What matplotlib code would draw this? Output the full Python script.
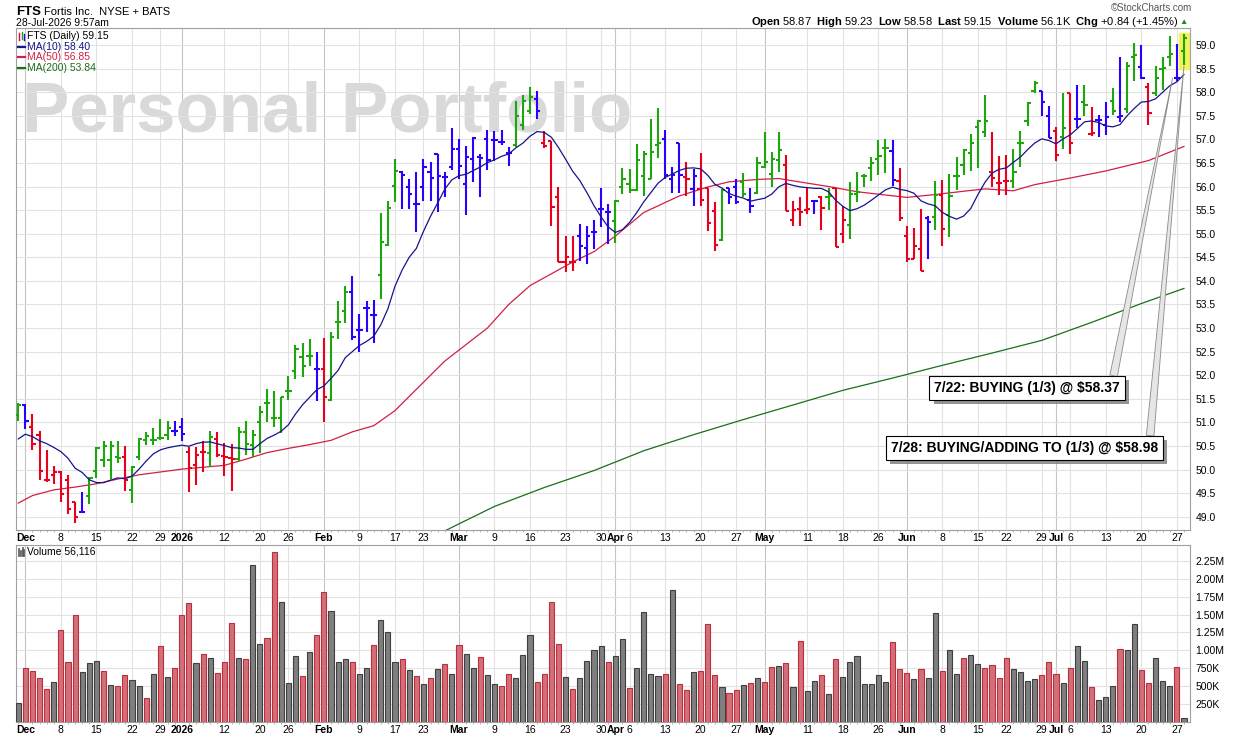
import numpy as np
import pandas as pd
import matplotlib
matplotlib.use("Agg")
import matplotlib.pyplot as plt
from matplotlib.lines import Line2D
from matplotlib.patches import Rectangle
import matplotlib.patheffects as pe

plt.rcParams['font.family'] = ['Liberation Sans', 'DejaVu Sans']
plt.rcParams['mathtext.fontset'] = 'custom'
plt.rcParams['mathtext.rm'] = 'Liberation Sans'
plt.rcParams['mathtext.bf'] = 'Liberation Sans:bold'

# trading calendar
holidays = ['2025-12-25', '2026-01-01', '2026-01-19', '2026-02-16',
            '2026-04-03', '2026-05-25', '2026-06-19', '2026-07-03']
days = pd.bdate_range('2025-11-28', '2026-07-28', freq='C', holidays=holidays)

# daily OHLC
opens = [
    51.16, 51.37, 50.91, 50.74, 49.78, 49.89, 49.94, 49.77, 49.31, 49.11,
    49.45, 49.98, 50.21, 50.21, 50.26, 50.26, 49.57, 50.26, 50.62, 50.62,
    50.67, 50.74, 50.81, 50.91, 50.38, 50.10, 50.38, 50.35, 50.64, 50.28,
    50.24, 50.23, 50.79, 50.53, 51.00, 51.41, 51.09, 51.09, 51.66, 52.08,
    52.38, 52.40, 52.14, 52.14, 51.48, 53.12, 53.37, 53.77, 52.96, 53.42,
    53.28, 54.13, 54.77, 56.02, 56.30, 55.98, 55.63, 55.98, 56.30, 56.70,
    56.21, 56.41, 56.80, 56.05, 56.58, 56.63, 57.00, 56.99, 56.94, 56.72,
    56.87, 57.30, 57.60, 57.85, 56.92, 56.96, 55.77, 54.41, 54.41, 54.96,
    54.70, 55.03, 55.52, 55.47, 55.27, 55.98, 56.05, 55.92, 56.23, 56.15,
    56.88, 57.00, 56.15, 56.92, 56.20, 55.94, 55.94, 55.96, 55.48, 54.86,
    55.96, 55.99, 56.10, 55.72, 55.87, 56.42, 56.26, 56.57, 56.45, 55.29,
    55.53, 55.50, 55.70, 55.78, 55.78, 55.96, 55.00, 55.18, 55.85, 56.23,
    56.39, 56.59, 56.81, 56.76, 56.12, 54.96, 54.46, 54.68, 55.33, 55.35,
    55.81, 55.40, 56.22, 56.46, 56.72, 57.27, 57.15, 56.31, 56.07, 56.11,
    56.11, 56.92, 57.38, 58.02, 58.02, 57.50, 57.17, 57.06, 57.99, 57.44,
    57.80, 57.12, 57.42, 57.31, 57.81, 57.47, 57.65, 58.75, 58.53, 58.10,
    57.98, 58.50, 58.75, 58.31, 58.87]
highs = [
    51.41, 51.39, 51.18, 50.81, 50.41, 50.07, 49.97, 49.88, 49.32, 49.52,
    49.85, 50.47, 50.60, 50.61, 50.60, 50.51, 50.07, 50.67, 50.79, 50.88,
    51.07, 51.04, 51.02, 51.09, 50.48, 50.48, 50.60, 50.82, 50.79, 50.56,
    50.55, 50.90, 51.02, 50.83, 51.35, 51.70, 51.67, 51.54, 51.99, 52.64,
    52.69, 52.77, 52.50, 52.79, 52.91, 53.58, 53.90, 54.10, 53.29, 53.58,
    53.60, 55.44, 55.70, 56.58, 56.32, 56.16, 56.30, 56.58, 56.51, 56.70,
    56.31, 57.25, 57.01, 56.85, 57.06, 56.69, 57.20, 57.18, 57.20, 56.83,
    57.82, 57.93, 58.10, 58.03, 57.18, 56.96, 56.00, 54.96, 54.96, 55.21,
    55.17, 55.28, 55.97, 55.64, 55.72, 56.40, 56.38, 56.90, 56.76, 57.44,
    57.67, 57.19, 56.42, 56.92, 56.52, 56.38, 56.71, 55.96, 55.67, 55.94,
    55.97, 56.17, 56.29, 55.97, 56.63, 57.16, 56.73, 57.16, 56.66, 55.70,
    55.78, 55.96, 55.71, 55.79, 55.96, 55.96, 55.58, 56.10, 56.31, 56.27,
    56.62, 56.99, 57.00, 56.99, 56.39, 55.16, 55.12, 55.52, 55.37, 56.11,
    56.13, 56.26, 56.62, 56.80, 57.11, 57.42, 57.93, 57.15, 56.64, 56.66,
    56.80, 57.17, 57.80, 58.24, 58.03, 57.70, 57.26, 57.99, 57.99, 58.16,
    58.16, 57.68, 57.52, 57.80, 58.09, 58.74, 58.63, 59.04, 59.01, 58.19,
    58.55, 58.74, 59.18, 59.02, 59.23]
lows = [
    51.02, 50.86, 50.41, 49.77, 49.73, 49.69, 49.32, 49.06, 48.87, 49.09,
    49.27, 49.82, 50.05, 49.80, 50.14, 49.55, 49.29, 50.21, 50.53, 50.53,
    50.62, 50.62, 50.72, 50.60, 49.53, 49.68, 49.95, 50.06, 50.26, 49.87,
    49.55, 50.19, 50.31, 50.27, 50.36, 51.00, 50.91, 50.77, 51.48, 51.92,
    51.97, 52.20, 51.45, 51.00, 51.46, 52.77, 53.11, 52.75, 52.50, 52.91,
    52.68, 53.62, 54.75, 55.68, 55.52, 55.52, 55.04, 55.70, 55.69, 55.45,
    55.77, 56.34, 56.16, 55.40, 56.09, 55.77, 56.34, 56.55, 56.87, 56.43,
    56.83, 57.20, 57.54, 57.43, 56.81, 55.17, 54.39, 54.18, 54.22, 54.43,
    54.36, 54.68, 55.14, 54.78, 54.81, 55.85, 55.87, 55.90, 55.80, 56.15,
    56.61, 56.17, 55.87, 55.87, 55.80, 55.59, 55.59, 55.06, 54.64, 54.85,
    55.64, 55.63, 55.78, 55.44, 55.85, 56.40, 55.99, 56.31, 55.48, 55.16,
    55.16, 55.41, 55.41, 55.07, 55.51, 54.71, 54.81, 54.88, 55.67, 56.00,
    56.12, 56.25, 56.29, 56.02, 55.26, 54.39, 54.46, 54.20, 54.47, 55.08,
    54.75, 54.94, 55.92, 56.25, 56.32, 56.39, 57.04, 55.98, 55.81, 55.83,
    55.97, 56.41, 57.29, 57.98, 57.49, 57.03, 56.55, 56.79, 56.69, 57.24,
    57.49, 57.08, 57.06, 57.10, 57.51, 57.36, 57.56, 58.23, 58.27, 57.31,
    57.91, 58.05, 58.55, 58.24, 58.58]
closes = [
    51.37, 51.02, 50.54, 49.96, 49.78, 49.95, 49.49, 49.17, 48.99, 49.11,
    49.82, 50.45, 50.51, 50.51, 50.24, 49.77, 50.05, 50.65, 50.72, 50.62,
    50.67, 50.88, 50.81, 50.76, 50.03, 50.30, 50.38, 50.70, 50.31, 50.26,
    50.23, 50.79, 50.55, 50.74, 51.23, 51.41, 51.09, 51.53, 51.66, 52.55,
    52.19, 52.40, 52.14, 51.54, 52.82, 53.12, 53.77, 52.81, 52.96, 53.42,
    53.28, 54.82, 55.54, 56.32, 56.25, 55.84, 55.63, 56.41, 56.18, 56.23,
    56.21, 56.80, 56.43, 56.63, 57.02, 56.60, 56.56, 56.99, 56.94, 56.72,
    57.50, 57.82, 57.89, 57.61, 56.85, 55.56, 54.40, 54.50, 54.39, 54.75,
    54.95, 55.03, 55.52, 55.47, 55.70, 56.15, 55.92, 56.57, 56.68, 56.73,
    56.92, 56.25, 56.25, 56.24, 56.17, 56.22, 55.71, 55.22, 54.76, 55.92,
    55.78, 55.68, 55.85, 55.58, 56.50, 56.51, 56.59, 56.77, 55.48, 55.50,
    55.46, 55.53, 55.70, 55.55, 55.80, 54.72, 55.30, 55.85, 55.89, 56.23,
    56.50, 56.64, 56.81, 56.13, 55.33, 54.46, 54.75, 54.22, 55.25, 55.83,
    55.11, 55.79, 56.22, 56.78, 56.92, 57.38, 57.38, 56.18, 56.07, 56.11,
    56.30, 56.92, 57.77, 58.19, 57.80, 57.03, 56.67, 57.24, 56.92, 57.44,
    57.72, 57.13, 57.42, 57.47, 57.61, 57.50, 58.55, 58.78, 58.29, 57.55,
    58.29, 58.51, 58.80, 58.31, 59.15]
# g = green, r = red, b = blue (impulse colouring as shown)
bar_colors = ("gbrrrrrrrb" "gggggrgggg" "ggbbrrrgrr" "rggggggggg" "ggbrgggbbb"
              "bgggbbbbbb" "bbbbbbbbbb" "gggbrrrrrb" "bbbbgggggg" "gbbbrbrrrg"
              "bbgbggggrr" "rrbrgrrggg" "gggbrrrrbg" "rggggggrrr" "ggggbbrgrb"
              "grbbgbggbr" "gggbg")

# volume in thousands
volume_k = [
    272, 755, 713, 614, 460, 553, 1290, 840, 1487, 699,
    825, 854, 713, 516, 502, 657, 586, 502, 333, 671,
    1065, 628, 755, 1487, 1656, 825, 947, 896, 685, 840,
    1388, 896, 882, 2190, 1093, 1177, 2373, 1670, 544, 924,
    643, 980, 1219, 1810, 1543, 840, 882, 840, 671, 755,
    1079, 1430, 1262, 840, 882, 727, 643, 530, 614, 741,
    811, 671, 1079, 952, 755, 910, 657, 530, 502, 671,
    614, 938, 1219, 558, 671, 1670, 1093, 628, 460, 614,
    854, 1008, 1065, 840, 924, 1163, 474, 755, 1529, 671,
    643, 671, 1838, 530, 446, 699, 713, 1374, 657, 488,
    403, 446, 516, 544, 614, 558, 769, 783, 825, 488,
    1135, 431, 572, 657, 389, 882, 628, 840, 924, 530,
    530, 657, 558, 1121, 741, 685, 600, 741, 614, 1515,
    713, 1008, 671, 896, 938, 811, 755, 797, 614, 896,
    741, 699, 572, 600, 657, 840, 671, 544, 755, 1065,
    854, 488, 305, 347, 502, 1022, 1008, 1374, 727, 544,
    896, 572, 502, 769, 56]
# r = down day (red), k = up day (grey)
vol_colors = ("krrrrkrrrk" "kkrkrrkkrk" "rkrrrkrkrr" "rkrkkrrkkk" "rkrrkkkrkk"
              "rkkkrkrkrk" "rkrkkrkkrr" "kkkrrrrkrk" "kkkrkkrkkk" "krkrrkrrrk"
              "rrkrkrrkrk" "rkkrkrkkkk" "kkkrrrkrkk" "rkkrkkrrrr" "kkkkrrrkrk"
              "krkkkrkkrr" "kkkrk")

# MA(10) for the first bars (needs history before the window)
ma10_head = [50.65, 50.75, 50.70, 50.61, 50.55, 50.47, 50.38, 50.24, 50.03]
# MA(50) and MA(200) read at sample bars
ma50_idx = [0, 2, 5, 8, 11, 14, 17, 20, 23, 26, 29, 32, 35, 38, 41, 44, 47, 50, 53, 56,
            60, 63, 66, 69, 72, 75, 78, 81, 84, 88, 93, 97, 100, 104, 107, 109, 114, 118,
            122, 125, 129, 133, 136, 140, 143, 148, 153, 159, 164]
ma50_val = [49.29, 49.45, 49.57, 49.63, 49.70, 49.80, 49.89, 49.95, 50.01, 50.05,
            50.09, 50.22, 50.36, 50.45, 50.53, 50.62, 50.80, 50.93, 51.25, 51.70,
            52.30, 52.65, 53.00, 53.50, 53.90, 54.15, 54.40, 54.62, 54.95, 55.45,
            55.80, 55.99, 56.10, 56.15, 56.17, 56.12, 56.00, 55.89, 55.82, 55.77,
            55.83, 55.90, 55.95, 55.91, 56.04, 56.18, 56.33, 56.55, 56.85]
ma200_idx = [58, 62, 67, 74, 81, 88, 95, 102, 109, 116, 123, 130, 137, 144, 151, 158, 164]
ma200_val = [48.55, 48.85, 49.22, 49.62, 49.98, 50.40, 50.74, 51.06, 51.37, 51.68,
             51.94, 52.21, 52.47, 52.74, 53.12, 53.52, 53.84]

tick_dates = ['2025-12-01', '2025-12-08', '2025-12-15', '2025-12-22', '2025-12-29',
              '2026-01-02', '2026-01-12', '2026-01-20', '2026-01-26', '2026-02-02',
              '2026-02-09', '2026-02-17', '2026-02-23', '2026-03-02', '2026-03-09',
              '2026-03-16', '2026-03-23', '2026-03-30', '2026-04-01', '2026-04-06',
              '2026-04-13', '2026-04-20', '2026-04-27', '2026-05-01', '2026-05-11',
              '2026-05-18', '2026-05-26', '2026-06-01', '2026-06-08', '2026-06-15',
              '2026-06-22', '2026-06-29', '2026-07-01', '2026-07-06', '2026-07-13',
              '2026-07-20', '2026-07-27']
tick_labels = ['Dec', '8', '15', '22', '29', '2026', '12', '20', '26', 'Feb', '9', '17', '23',
               'Mar', '9', '16', '23', '30', 'Apr', '6', '13', '20', '27', 'May', '11', '18',
               '26', 'Jun', '8', '15', '22', '29', 'Jul', '6', '13', '20', '27']

notes = ["7/22: BUYING (1/3) @ $58.37", "7/28: BUYING/ADDING TO (1/3) @ $58.98"]

# ------------------------------------------------------------------
x = np.arange(len(closes))
ma10 = pd.Series(closes).rolling(10).mean().to_numpy()
ma10[:9] = ma10_head

palette = {'g': '#1ea60e', 'r': '#e8001c', 'b': '#2a00ff'}
cols = [palette[k] for k in bar_colors]
vfill = {'r': '#d0707a', 'k': '#7f7f7f'}
vedge = {'r': '#c02c3a', 'k': '#3f3f3f'}

W, H = 1240, 737
def rect(l, t, r, b):
    return [l / W, 1 - b / H, (r - l) / W, (b - t) / H]

fig = plt.figure(figsize=(W / 100, H / 100), dpi=100)
ax = fig.add_axes(rect(16, 28, 1190, 530))
axv = fig.add_axes(rect(16, 545, 1190, 722))

tick_pos = [days.get_loc(pd.Timestamp(d)) for d in tick_dates]
is_month = [not lab.isdigit() or lab == '2026' for lab in tick_labels]

for a in (ax, axv):
    a.set_xlim(-0.32, 164.85)
    for p, m in zip(tick_pos, is_month):
        a.axvline(p, color='#c4c4c4' if m else '#e2e2e2', lw=0.8, zorder=0)
    a.set_xticks(tick_pos)
    a.set_xticklabels(tick_labels)
    for t, m in zip(a.get_xticklabels(), is_month):
        if m:
            t.set_fontweight('bold')
            t.set_fontsize(8.5)
    a.set_xticks(x, minor=True)
    a.tick_params(axis='x', which='major', length=0, pad=2, labelsize=7.5)
    a.tick_params(axis='x', which='minor', length=1.5, color='#aaaaaa')
    a.yaxis.tick_right()
    a.tick_params(axis='y', length=0, pad=4, labelsize=7.5)
    a.grid(axis='y', color='#e2e2e2', lw=0.8)
    a.set_axisbelow(True)
    for s in a.spines.values():
        s.set_color('#a0a0a0')
        s.set_linewidth(0.8)

# price panel
ax.set_ylim(48.72, 59.36)
ax.set_yticks(np.arange(49.0, 59.01, 0.5))
ax.set_yticklabels([f'{v:.1f}' for v in np.arange(49.0, 59.01, 0.5)])

ax.text(0.005, 0.793, 'Personal Portfolio', transform=ax.transAxes, fontsize=51,
        fontweight='bold', color='#d9d9d9', va='baseline', ha='left', zorder=0.5)

ax.add_patch(Rectangle((163.3, 58.5), 1.4, 0.76, color='#f2f25c', zorder=1))

ax.plot(ma200_idx, ma200_val, color='#1b6e1b', lw=0.9, zorder=2)
ax.plot(ma50_idx, ma50_val, color='#d21f45', lw=0.9, zorder=2)
ax.vlines(x, lows, highs, colors=cols, lw=1.5, zorder=3)
ax.hlines(opens, x - 0.45, x, colors=cols, lw=1.5, zorder=3)
ax.hlines(closes, x, x + 0.45, colors=cols, lw=1.5, zorder=3)
ax.plot(x, ma10, color='#15158c', lw=0.9, zorder=4)

# callouts
for txt, tx, ty, tip, rp in [(notes[0], 155.0, 51.73, (162.4, 58.3), 0.96),
                             (notes[1], 160.3, 50.46, (164.0, 58.55), 0.97)]:
    an = ax.annotate(txt, xy=tip, xytext=(tx, ty), ha='right', va='center',
                     fontsize=10, fontweight='bold', zorder=6,
                     bbox=dict(boxstyle='square,pad=0.35', fc='white', ec='black', lw=0.8),
                     arrowprops=dict(arrowstyle='wedge,tail_width=0.55', fc='#e6e6e6',
                                     ec='#8a8a8a', lw=0.6, relpos=(rp, 1.0),
                                     shrinkA=0, shrinkB=0))
    an.get_bbox_patch().set_path_effects([pe.SimplePatchShadow(offset=(3, -3), shadow_rgbFace='#7a7a7a', alpha=0.8),
                                          pe.Normal()])

# legend block
def fy(y):
    return 1 - y / H
legend_rows = [('FTS (Daily) 59.15', 'black', None),
               ('MA(10) 58.40', '#15158c', '#15158c'),
               ('MA(50) 56.85', '#d21f45', '#d21f45'),
               ('MA(200) 53.84', '#1b6e1b', '#1b6e1b')]
for k, (lab, tc, lc) in enumerate(legend_rows):
    yy = 36 + k * 10.7
    fig.text(27 / W, fy(yy), lab, color=tc, fontsize=7.5, va='center', ha='left')
    if lc:
        fig.add_artist(Line2D([18 / W, 25 / W], [fy(yy), fy(yy)], color=lc, lw=1.6))
for dx, col, y0, y1 in [(18.5, '#e8001c', 40, 33), (21.5, '#1ea60e', 39, 32), (24.5, '#2a00ff', 40, 34)]:
    fig.add_artist(Line2D([dx / W, dx / W], [fy(y0), fy(y1)], color=col, lw=1.0))

# volume panel
axv.bar(x, volume_k, width=0.72, color=[vfill[k] for k in vol_colors],
        edgecolor=[vedge[k] for k in vol_colors], lw=0.8, zorder=3)
axv.set_ylim(0, 2470)
vt = [250, 500, 750, 1000, 1250, 1500, 1750, 2000, 2250]
axv.set_yticks(vt)
axv.set_yticklabels([f'{v}K' if v < 1000 else f'{v / 1000:.2f}M' for v in vt])
fig.text(27 / W, fy(552), 'Volume 56,116', fontsize=7.5, va='center', ha='left')
for dx, h in [(18.5, 7), (20.5, 5), (22.5, 8), (24.5, 6)]:
    fig.add_artist(Line2D([dx / W, dx / W], [fy(556), fy(556 - h)], color='#555555', lw=1.2))

# header
fig.text(16 / W, fy(12), 'FTS', fontsize=9.5, fontweight='bold', va='center', ha='left')
fig.text(44 / W, fy(12), 'Fortis Inc.  NYSE + BATS', fontsize=8, va='center', ha='left')
fig.text(16 / W, fy(23), '28-Jul-2026 9:57am', fontsize=7.5, va='center', ha='left')
fig.text(1192 / W, fy(8), '\u00a9StockCharts.com', fontsize=7, color='#555555', va='center', ha='right')
fig.text(1178 / W, fy(22),
         r'$\bf{Open}$ 58.87  $\bf{High}$ 59.23  $\bf{Low}$ 58.58  $\bf{Last}$ 59.15  '
         r'$\bf{Volume}$ 56.1K  $\bf{Chg}$ +0.84 (+1.45%)',
         fontsize=8, va='center', ha='right')
fig.text(1188 / W, fy(22), '\u25b2', fontsize=6, color='#1b8a1b', va='center', ha='right')

fig.savefig('out.png', dpi=100)
